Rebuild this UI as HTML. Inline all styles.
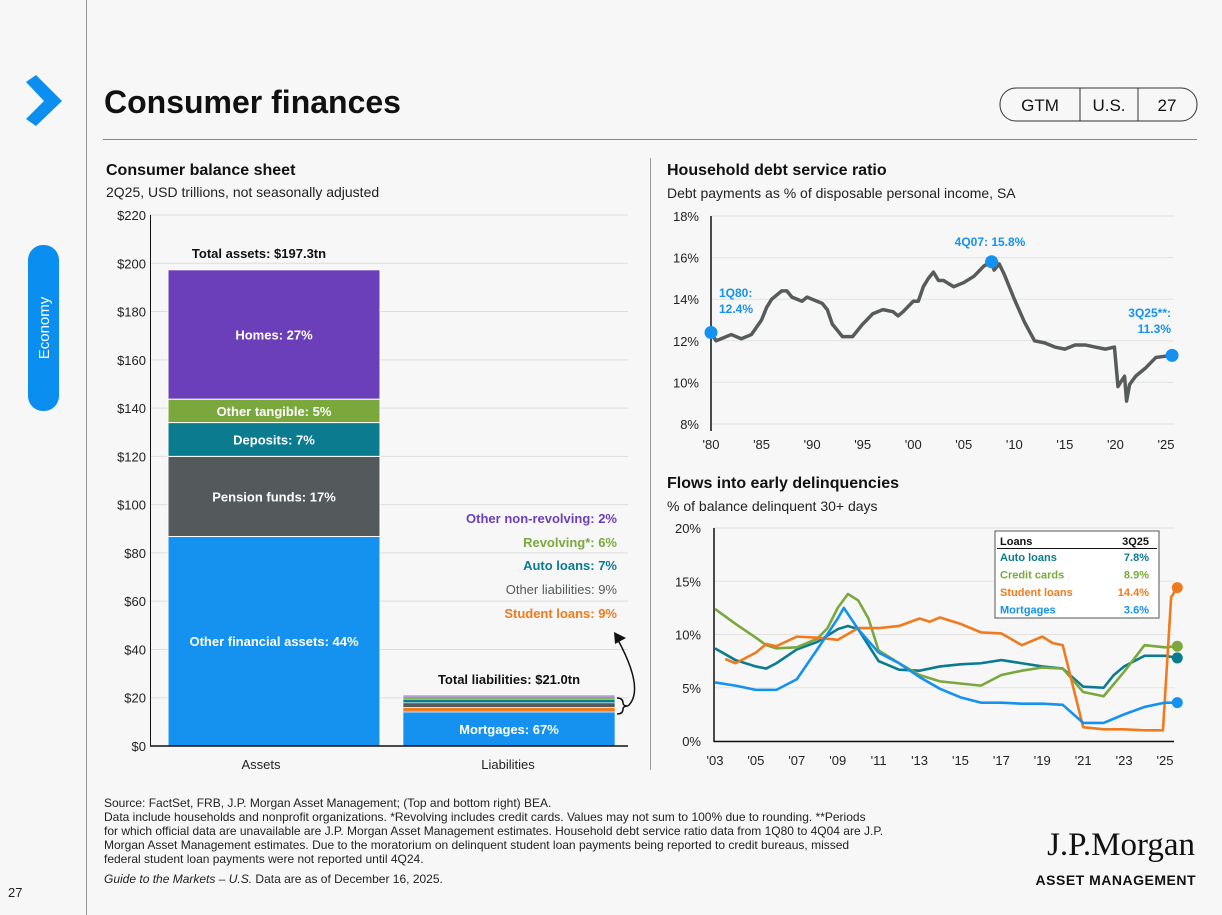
<!DOCTYPE html>
<html><head><meta charset="utf-8"><style>
body{margin:0;background:#f7f7f7;font-family:"Liberation Sans",Arial,sans-serif;}
svg{display:block}
text{font-family:"Liberation Sans",Arial,sans-serif}
</style></head><body>
<svg id="s" width="1222" height="915" viewBox="0 0 1222 915">
<rect width="1222" height="915" fill="#f7f7f7"/>
<line x1="86.5" y1="0" x2="86.5" y2="915" stroke="#999"/>
<polygon points="26,82 36,75 62,101 36,126 26,119 44,101" fill="#0a8ff0"/>
<rect x="28" y="245" width="31" height="166" rx="15" fill="#0a8ff0"/>
<text x="49" y="328" transform="rotate(-90 49 328)" text-anchor="middle" font-size="15" fill="#fff">Economy</text>
<text x="104" y="113" font-size="32" font-weight="bold" fill="#111">Consumer finances</text>
<line x1="103" y1="139.5" x2="1197" y2="139.5" stroke="#888"/>
<g>
<rect x="1000" y="88" width="197" height="33" rx="16" fill="none" stroke="#333"/>
<line x1="1080" y1="88" x2="1080" y2="121" stroke="#333"/><line x1="1138" y1="88" x2="1138" y2="121" stroke="#333"/>
<text x="1040" y="111" text-anchor="middle" font-size="17" fill="#111">GTM</text>
<text x="1109" y="111" text-anchor="middle" font-size="17" fill="#111">U.S.</text>
<text x="1167" y="111" text-anchor="middle" font-size="17" fill="#111">27</text></g>
<line x1="650.5" y1="158" x2="650.5" y2="770" stroke="#999"/>
<text x="106" y="175" font-size="16" font-weight="bold" fill="#111">Consumer balance sheet</text>
<text x="106" y="197" font-size="14" fill="#222">2Q25, USD trillions, not seasonally adjusted</text>
<text x="667" y="175" font-size="16" font-weight="bold" fill="#111">Household debt service ratio</text>
<text x="667" y="198" font-size="14" fill="#222">Debt payments as % of disposable personal income, SA</text>
<text x="667" y="488" font-size="16" font-weight="bold" fill="#111">Flows into early delinquencies</text>
<text x="667" y="511" font-size="14" fill="#222">% of balance delinquent 30+ days</text>
<g id="bal"></g><g id="dsr"></g><g id="dq"></g>
<g font-size="12" fill="#222">
<text x="104" y="807">Source: FactSet, FRB, J.P. Morgan Asset Management; (Top and bottom right) BEA.</text>
<text x="104" y="821">Data include households and nonprofit organizations. *Revolving includes credit cards. Values may not sum to 100% due to rounding. **Periods</text>
<text x="104" y="835">for which official data are unavailable are J.P. Morgan Asset Management estimates. Household debt service ratio data from 1Q80 to 4Q04 are J.P.</text>
<text x="104" y="849">Morgan Asset Management estimates. Due to the moratorium on delinquent student loan payments being reported to credit bureaus, missed</text>
<text x="104" y="863">federal student loan payments were not reported until 4Q24.</text>
<text x="104" y="883"><tspan font-style="italic">Guide to the Markets – U.S.</tspan> Data are as of December 16, 2025.</text></g>
<text x="8" y="897" font-size="13" fill="#222">27</text>
<text x="1195" y="855" text-anchor="end" font-size="33" font-family="Liberation Serif" fill="#111" style="font-family:'Liberation Serif',serif">J.P.Morgan</text>
<text x="1196" y="885" text-anchor="end" font-size="14" font-weight="bold" fill="#111" letter-spacing="0.5">ASSET MANAGEMENT</text>
</svg>
<script>
const NS="http://www.w3.org/2000/svg";
function mk(p,t,a,tx){const e=document.createElementNS(NS,t);for(const k in a)e.setAttribute(k,a[k]);if(tx!==undefined)e.textContent=tx;p.appendChild(e);return e;}
// ---- balance sheet data
const balTicks=[0,20,40,60,80,100,120,140,160,180,200,220];
const assetLabels=["Other financial assets: 44%","Pension funds: 17%","Deposits: 7%","Other tangible: 5%","Homes: 27%"];
const assetValues=[86.8,33.2,14.0,9.7,53.6];
const assetColors=["#1591f0","#545a5c","#0b7b90","#7aa83c","#6b3fba"];
const liabLabels=["Mortgages: 67%","Student loans: 9%","Other liabilities: 9%","Auto loans: 7%","Revolving*: 6%","Other non-revolving: 2%"];
const liabValues=[14.1,1.9,1.9,1.5,1.2,0.4];
const liabColors=["#1591f0","#f07a1e","#545a5c","#0b7b90","#7aa83c","#6b3fba"];
const by=v=>746-v*(531/220);
const bal=document.getElementById('bal');
balTicks.forEach(t=>{const g=mk(bal,'g',{});

mk(g,'line',{x1:150,x2:628,y1:by(t),y2:by(t),stroke:'#ddd'});
mk(g,'text',{x:146,y:by(t)+5,'text-anchor':'end','font-size':13,fill:'#222'},'$'+t);});
let c=0;assetValues.forEach((v,i)=>{const r=mk(bal,'rect',{x:168,y:by(c+v),width:212,height:by(c)-by(c+v),fill:assetColors[i],stroke:'#fff','stroke-width':1});

const t=mk(bal,'text',{x:274,y:(by(c)+by(c+v))/2+5,'text-anchor':'middle','font-size':13,'font-weight':'bold',fill:'#fff'},assetLabels[i]);
c+=v;});
const ta=mk(bal,'text',{x:259,y:by(c)-12,'text-anchor':'middle','font-size':13,'font-weight':'bold',fill:'#111'},'Total assets: $'+c.toFixed(1)+'tn');

c=0;liabValues.forEach((v,i)=>{const r=mk(bal,'rect',{x:403,y:by(c+v),width:212,height:Math.max(by(c)-by(c+v),1.5),fill:liabColors[i],stroke:'#fff','stroke-width':0.6});
c+=v;});
const mt=mk(bal,'text',{x:509,y:by(liabValues[0]/2)+5,'text-anchor':'middle','font-size':13,'font-weight':'bold',fill:'#fff'},liabLabels[0]);

const lcol=["","#f07a1e","#545a5c","#0b7b90","#7aa83c","#6b3fba"];
for(let i=1;i<6;i++){const t=mk(bal,'text',{x:617,y:[0,618,594,570,547,523][i],'text-anchor':'end','font-size':13,'font-weight':i==2?'normal':'bold',fill:lcol[i]},liabLabels[i]);
}
const tl=mk(bal,'text',{x:509,y:684,'text-anchor':'middle','font-size':13,'font-weight':'bold',fill:'#111'},'Total liabilities: $'+c.toFixed(1)+'tn');

const ar=mk(bal,'path',{d:'M617,698 q6,0 6,5 q0,3 5,3 q-5,0 -5,3 q0,5 -6,5 M628,706 Q645,690 618,640',fill:'none',stroke:'#111','stroke-width':1.5});

mk(bal,'polygon',{points:'614,632 626,638 615,644',fill:'#111'});
mk(bal,'line',{x1:150,x2:628,y1:746,y2:746,stroke:'#111','stroke-width':1.5});
mk(bal,'line',{x1:150.5,x2:150.5,y1:215,y2:746,stroke:'#111','stroke-width':1});
[['Assets',261],['Liabilities',508]].forEach(a=>{const t=mk(bal,'text',{x:a[1],y:769,'text-anchor':'middle','font-size':13,fill:'#222'},a[0]);
});

// ---- DSR data
const dsrYears=[1980,1980.5,1981,1982,1983,1984,1985,1985.5,1986,1987,1987.5,1988,1989,1989.5,1990,1991,1991.5,1992,1993,1994,1995,1996,1997,1998,1998.5,1999,2000,2000.5,2001,2001.5,2002,2002.5,2003,2004,2005,2006,2007,2007.75,2008,2008.5,2009,2010,2011,2012,2013,2014,2015,2016,2017,2018,2019,2019.9,2020.25,2020.5,2020.9,2021.1,2021.4,2022,2023,2024,2025.6];
const dsrValues=[12.4,12.0,12.1,12.3,12.1,12.3,13.0,13.6,14.0,14.4,14.4,14.1,13.9,14.1,14.0,13.8,13.5,12.8,12.2,12.2,12.8,13.3,13.5,13.4,13.2,13.4,13.9,13.9,14.6,15.0,15.3,14.9,14.9,14.6,14.8,15.1,15.6,15.8,15.4,15.7,15.2,14.0,12.9,12.0,11.9,11.7,11.6,11.8,11.8,11.7,11.6,11.7,9.8,10.0,10.3,9.1,9.9,10.3,10.7,11.2,11.3];
const dsrTicks=[8,10,12,14,16,18];
const dsrXTicks=[1980,1985,1990,1995,2000,2005,2010,2015,2020,2025];
const dx=y=>711+(y-1980)*(455/45), dy=v=>424-(v-8)*20.8;
const dsr=document.getElementById('dsr');
dsrTicks.forEach(t=>{const g=mk(dsr,'g',{});
mk(g,'line',{x1:711,x2:1174,y1:dy(t),y2:dy(t),stroke:'#e2e2e2'});
mk(g,'text',{x:699,y:dy(t)+5,'text-anchor':'end','font-size':13,fill:'#222'},t+'%');});
dsrXTicks.forEach(t=>{const e=mk(dsr,'text',{x:dx(t),y:449,'text-anchor':'middle','font-size':13,fill:'#222'},"'"+String(t).slice(2));
});
mk(dsr,'line',{x1:711,x2:711,y1:216,y2:431,stroke:'#111','stroke-width':1.5});
const dl=mk(dsr,'polyline',{points:dsrYears.map((y,i)=>dx(y)+','+dy(dsrValues[i])).join(' '),fill:'none',stroke:'#575b5c','stroke-width':3.5,'stroke-linejoin':'round'});

const dsrMarks=[[0,'1Q80:','12.4%',719,297,'start'],[37,'4Q07:  15.8%','',990,246,'middle'],[dsrYears.length-1,'3Q25**:','11.3%',1171,317,'end']];
dsrMarks.forEach(m=>{const i=m[0];const d=mk(dsr,'circle',{cx:dx(dsrYears[i]),cy:dy(dsrValues[i]),r:6.5,fill:'#1591f0'});

const t=mk(dsr,'text',{x:m[3],y:m[4],'text-anchor':m[5],'font-size':12,'font-weight':'bold',fill:'#1591f0'},m[1]);

if(m[2]){mk(dsr,'text',{x:m[3],y:m[4]+16,'text-anchor':m[5],'font-size':12,'font-weight':'bold',fill:'#1591f0'},m[2]);}});

// ---- Delinquency data
const autoYears=[2003,2004,2005,2005.5,2006,2007,2008,2009,2009.5,2010,2010.5,2011,2012,2013,2014,2015,2016,2017,2018,2019,2020,2021,2022,2022.5,2023,2024,2025,2025.6];
const autoValues=[8.7,7.6,7.0,6.8,7.3,8.6,9.3,10.5,10.8,10.5,9.0,7.5,6.7,6.6,7.0,7.2,7.3,7.6,7.3,7.0,6.8,5.1,5.0,6.2,7.0,8.0,8.0,7.8];
const ccYears=[2003,2004,2005,2005.5,2006,2007,2008,2008.5,2009,2009.5,2010,2010.5,2011,2012,2013,2014,2015,2016,2017,2018,2019,2020,2021,2022,2023,2024,2025,2025.6];
const ccValues=[12.4,11.0,9.7,9.0,8.7,8.8,9.6,10.6,12.5,13.8,13.2,11.5,8.5,7.3,6.2,5.6,5.4,5.2,6.2,6.6,6.9,6.8,4.6,4.2,6.5,9.0,8.8,8.9];
const slYears=[2003.5,2004,2005,2005.5,2006,2007,2008,2009,2010,2011,2012,2013,2013.5,2014,2015,2016,2017,2018,2019,2019.5,2020,2021,2022,2023,2024,2024.9,2025.3,2025.6];
const slValues=[7.7,7.3,8.3,9.1,8.9,9.8,9.7,9.5,10.6,10.6,10.8,11.5,11.2,11.6,11.0,10.2,10.1,9.0,9.8,9.2,9.0,1.3,1.1,1.1,1.0,1.0,13.5,14.4];
const mgYears=[2003,2004,2005,2006,2007,2008,2009,2009.3,2010,2011,2012,2013,2014,2015,2016,2017,2018,2019,2020,2021,2022,2023,2024,2025,2025.6];
const mgValues=[5.5,5.2,4.8,4.8,5.8,8.6,11.5,12.5,10.5,8.3,7.3,6.0,4.9,4.1,3.6,3.6,3.5,3.5,3.4,1.7,1.7,2.5,3.2,3.6,3.6];
const dqTicks=[0,5,10,15,20];
const dqXTicks=[2003,2005,2007,2009,2011,2013,2015,2017,2019,2021,2023,2025];
const seriesNames=["Auto loans","Credit cards","Student loans","Mortgages"];
const seriesLatest=["7.8%","8.9%","14.4%","3.6%"];
const qx=y=>715+(y-2003)*(450/22), qy=v=>741-v*10.65;
const dq=document.getElementById('dq');
dqTicks.forEach(t=>{const g=mk(dq,'g',{});
mk(g,'line',{x1:714,x2:1174,y1:qy(t),y2:qy(t),stroke:'#e2e2e2'});
mk(g,'text',{x:701,y:qy(t)+5,'text-anchor':'end','font-size':13,fill:'#222'},t+'%');});
dqXTicks.forEach(t=>{const e=mk(dq,'text',{x:qx(t),y:765,'text-anchor':'middle','font-size':13,fill:'#222'},"'"+String(t).slice(2));
});
mk(dq,'line',{x1:714,x2:714,y1:528,y2:742,stroke:'#111','stroke-width':1.5});
mk(dq,'line',{x1:714,x2:1174,y1:741.5,y2:741.5,stroke:'#111','stroke-width':1.5});
const ser=[[autoYears,autoValues,'#0b7b90'],[ccYears,ccValues,'#7aa83c'],[slYears,slValues,'#f07a1e'],[mgYears,mgValues,'#1591f0']];
const order=[0,1,2,3];
order.forEach(i=>{const s=ser[i];const p=mk(dq,'polyline',{points:s[0].map((y,j)=>qx(y)+','+qy(s[1][j])).join(' '),fill:'none',stroke:s[2],'stroke-width':2.6,'stroke-linejoin':'round'});

const n=s[0].length-1;const d=mk(dq,'circle',{cx:qx(s[0][n]),cy:qy(s[1][n]),r:5.5,fill:s[2]});
});
const lg=mk(dq,'g',{});
mk(lg,'rect',{x:995,y:531,width:164,height:87,fill:'#fff',stroke:'#555','stroke-width':1});
mk(lg,'text',{x:1000,y:545,'font-size':11,'font-weight':'bold',fill:'#111'},'Loans');
mk(lg,'text',{x:1149,y:545,'text-anchor':'end','font-size':11,'font-weight':'bold',fill:'#111'},'3Q25');
mk(lg,'line',{x1:997,x2:1157,y1:548.5,y2:548.5,stroke:'#111'});
seriesNames.forEach((n,i)=>{const y=561+i*17.5;
const a=mk(lg,'text',{x:1000,y:y,'font-size':11,'font-weight':'bold',fill:ser[i][2]},n);

mk(lg,'text',{x:1149,y:y,'text-anchor':'end','font-size':11,'font-weight':'bold',fill:ser[i][2]},seriesLatest[i]);});
</script>
</body></html>
